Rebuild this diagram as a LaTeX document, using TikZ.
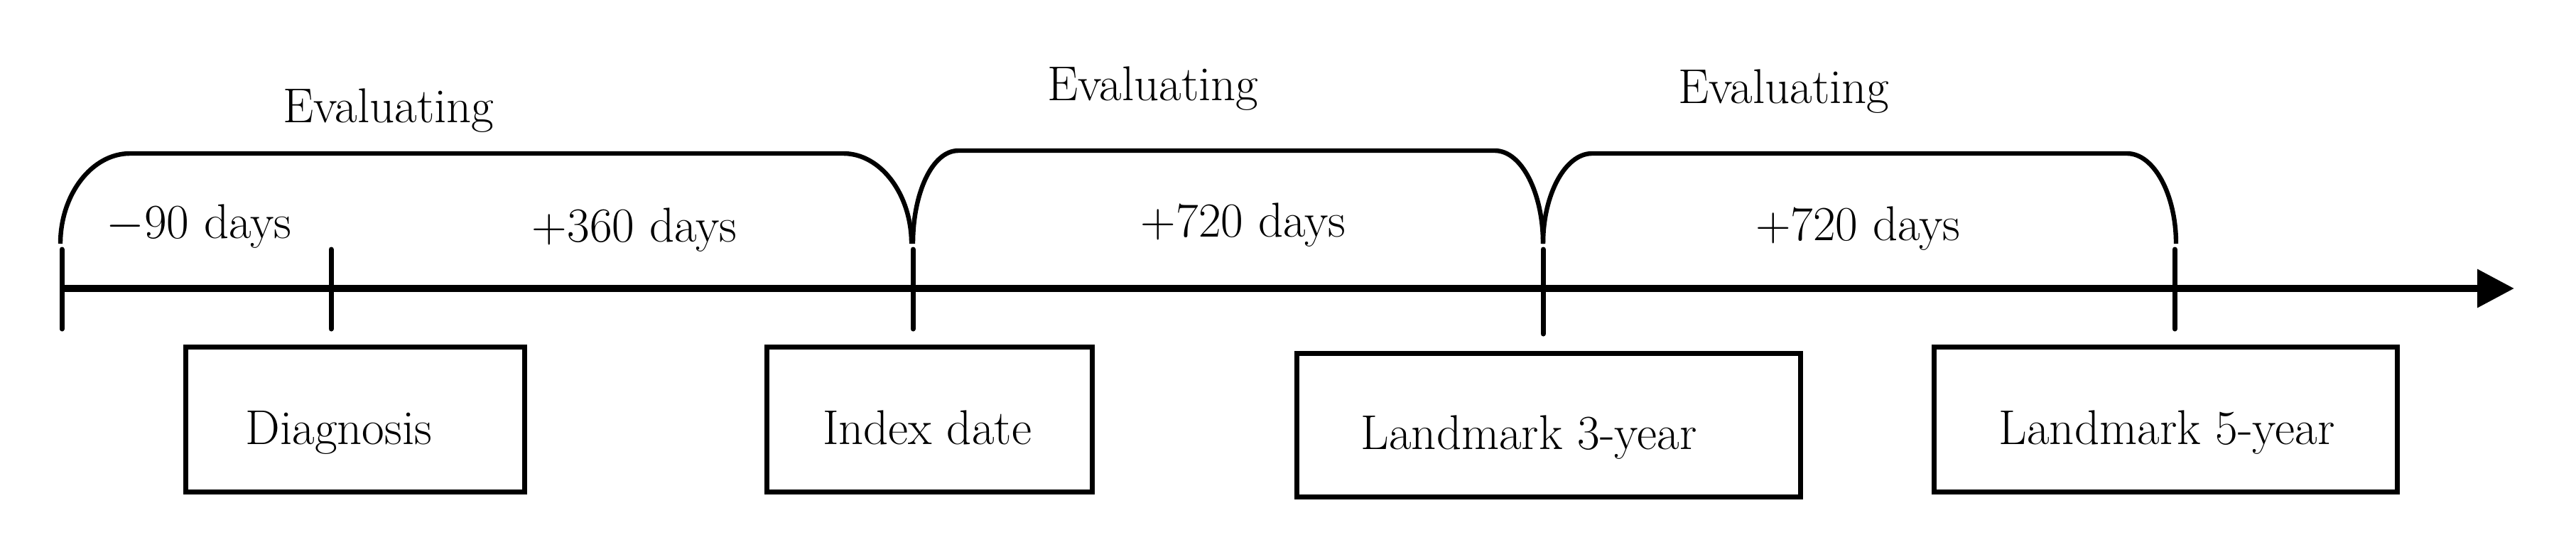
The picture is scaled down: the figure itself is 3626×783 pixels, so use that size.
\documentclass[tikz,border=0pt]{standalone}
\usetikzlibrary{arrows.meta}
\begin{document}
\begin{tikzpicture}[x=0.25pt,y=-0.25pt,
  axisline/.style={line width=2.5pt},
  tickline/.style={line width=1.75pt,line cap=round},
  bracketline/.style={line width=1.6pt},
  boxline/.style={line width=1.75pt},
  lbl/.style={anchor=base,inner sep=0pt,font=\fontsize{17.2}{20}\selectfont}]
\useasboundingbox (0,0) rectangle (3626,783);
% axis
\coordinate (ax0) at (87,406);
\coordinate (ax1) at (3539,406);
\draw[axisline,-{Triangle[length=13pt,width=13pt]}] (ax0) -- (ax1);
% ticks
\foreach \n/\x/\yb in {t0/87/463,t1/466/463,t2/1285/463,t3/2172/470,t4/3061/463}{
  \coordinate (\n a) at (\x,351);
  \coordinate (\n b) at (\x,\yb);
  \draw[tickline] (\n a) -- (\n b);
}
% brackets
\draw[bracketline] (85,343) .. controls (85,274) and (129,216) .. (183,216) -- (1187,216) .. controls (1240,216) and (1283,274) .. (1283,343);
\draw[bracketline] (1285,343) .. controls (1285,272) and (1312,212) .. (1349,212) -- (2104,212) .. controls (2142,212) and (2172,272) .. (2172,343);
\draw[bracketline] (2172,343) .. controls (2172,274) and (2203,216) .. (2241,216) -- (2994,216) .. controls (3032,216) and (3063,274) .. (3063,343);
% bracket labels
\node[lbl] (ev1) at (547,172) {Evaluating};
\node[lbl] (ev2) at (1623,141) {Evaluating};
\node[lbl] (ev3) at (2511,145) {Evaluating};
\node[lbl] (d1) at (280,335) {$-$90 days};
\node[lbl] (d2) at (893,340) {+360 days};
\node[lbl] (d3) at (1750,333) {+720 days};
\node[lbl] (d4) at (2615,338) {+720 days};
% boxes
\draw[boxline] (261,488) rectangle (738,692);
\draw[boxline] (1079,488) rectangle (1537,692);
\draw[boxline] (1825,497) rectangle (2534,699);
\draw[boxline] (2722,488) rectangle (3374,692);
\node[lbl] (b1) at (477,625) {Diagnosis};
\node[lbl] (b2) at (1305,625) {Index date};
\node[lbl] (b3) at (2152,632) {Landmark 3-year};
\node[lbl] (b4) at (3050,625) {Landmark 5-year};
\end{tikzpicture}
\end{document}
